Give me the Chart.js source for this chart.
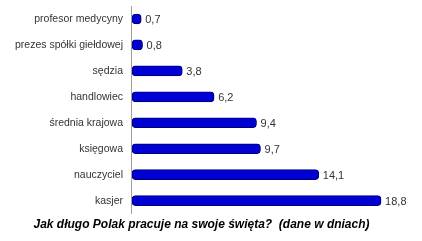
<!DOCTYPE html>
<html>
<head>
<meta charset="utf-8">
<script src="https://cdn.jsdelivr.net/npm/chart.js@4/dist/chart.umd.min.js"></script>
<style>
  html, body { margin: 0; padding: 0; background: #fff; }
  #wrap { width: 422px; height: 241px; position: relative; }
</style>
</head>
<body>
<div id="wrap"><canvas id="chart"></canvas></div>
<script>
var categories = ["profesor medycyny", "prezes spółki giełdowej", "sędzia", "handlowiec",
                  "średnia krajowa", "księgowa", "nauczyciel", "kasjer"];
var days = [0.7, 0.8, 3.8, 6.2, 9.4, 9.7, 14.1, 18.8];
var titleText = "Jak długo Polak pracuje na swoje święta?  (dane w dniach)";

// values next to the bars, comma as decimal sign
var valueLabels = {
  id: 'valueLabels',
  afterDatasetsDraw: function(chart) {
    var ctx = chart.ctx;
    var meta = chart.getDatasetMeta(0);
    ctx.save();
    ctx.font = '11px "Liberation Sans", Arial, sans-serif';
    ctx.fillStyle = '#333';
    ctx.textAlign = 'left';
    ctx.textBaseline = 'middle';
    meta.data.forEach(function(bar, i) {
      var txt = days[i].toFixed(1).replace('.', ',');
      ctx.fillText(txt, bar.x + 4, bar.y + 1);
    });
    ctx.restore();
  }
};

new Chart(document.getElementById("chart"), {
  type: 'bar',
  data: {
    labels: categories,
    datasets: [{
      data: days,
      backgroundColor: '#0000d4',
      borderColor: '#00006e',
      borderWidth: 1,
      borderRadius: 4,
      borderSkipped: false,
      barThickness: 10
    }]
  },
  options: {
    indexAxis: 'y',
    responsive: true,
    maintainAspectRatio: false,
    animation: false,
    layout: { padding: { top: 6, right: 25, left: 6, bottom: 9 } },
    plugins: {
      legend: { display: false },
      tooltip: { enabled: false },
      title: {
        display: true,
        position: 'bottom',
        text: titleText,
        color: '#000',
        font: { family: '"Liberation Sans", Arial, sans-serif', size: 12, weight: 'bold', style: 'italic' },
        padding: { top: 4, bottom: 0 }
      }
    },
    scales: {
      x: {
        display: false,
        min: 0,
        max: 20
      },
      y: {
        grid: { display: false, drawTicks: false },
        border: { display: true, color: '#a0a0a0', width: 1 },
        ticks: {
          color: '#333',
          padding: 9,
          font: { family: '"Liberation Sans", Arial, sans-serif', size: 10.5 }
        },
        afterFit: function(scale) {
          scale.paddingTop = 0;
          scale.paddingBottom = 0;
        }
      }
    }
  },
  plugins: [valueLabels]
});
</script>
</body>
</html>
